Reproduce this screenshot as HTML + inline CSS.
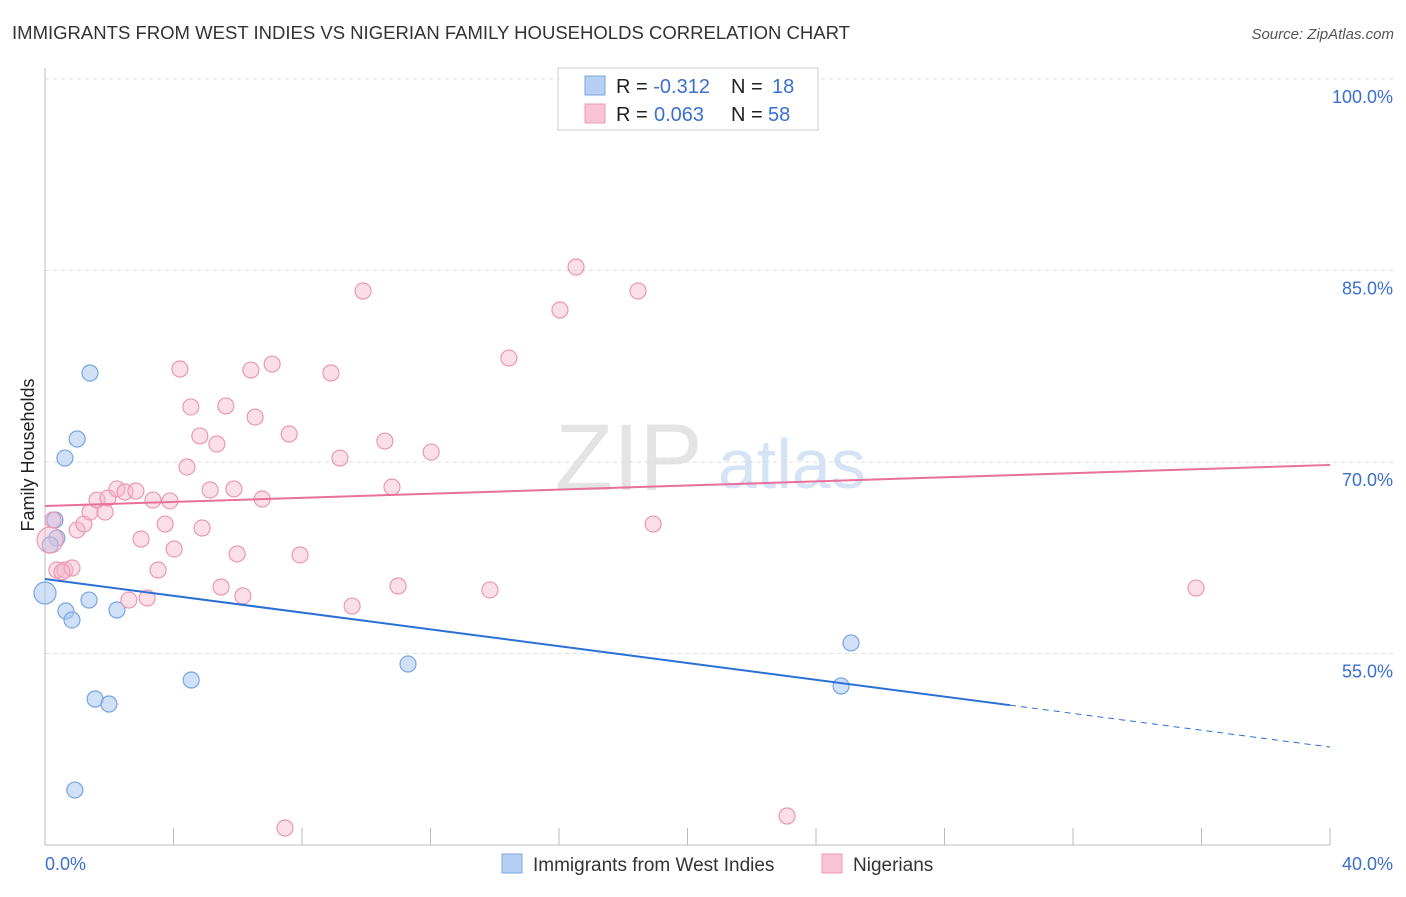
<!DOCTYPE html>
<html><head><meta charset="utf-8"><style>
body{margin:0;background:#fff;font-family:"Liberation Sans",sans-serif;}
svg text{font-family:"Liberation Sans",sans-serif;}
</style></head><body>
<svg id="c" width="1406" height="892" xmlns="http://www.w3.org/2000/svg">
<text x="12" y="39" font-size="18" fill="#333" textLength="838" lengthAdjust="spacingAndGlyphs">IMMIGRANTS FROM WEST INDIES VS NIGERIAN FAMILY HOUSEHOLDS CORRELATION CHART</text>
<text x="1394" y="39" font-size="15" fill="#555" font-style="italic" text-anchor="end">Source: ZipAtlas.com</text>
<text x="34" y="455" font-size="18" fill="#222" text-anchor="middle" transform="rotate(-90 34 455)">Family Households</text>
<text x="555" y="490" font-size="95" fill="#e4e4e4" font-family="Liberation Serif">ZIP</text>
<text x="718" y="488" font-size="70" fill="#d6e3f5">atlas</text>
<g id="grid"></g><g id="axes"></g><g id="pts"></g><g id="lines"></g>
<g>
<rect x="558" y="68" width="260" height="62" fill="#fff" stroke="#ccc"/>
<rect x="585" y="76" width="20" height="19" fill="#b6d0f4" stroke="#7aa6e0"/>
<rect x="585" y="104" width="20" height="19" fill="#f8c4d4" stroke="#ec9ab4"/>
<text x="616" y="93" font-size="20" fill="#222">R = <tspan fill="#3a6fd0">-0.312</tspan><tspan x="731">N = </tspan><tspan x="772" fill="#3a6fd0">18</tspan></text>
<text x="616" y="121" font-size="20" fill="#222">R = <tspan x="654" fill="#3a6fd0">0.063</tspan><tspan x="731">N = </tspan><tspan x="768" fill="#3a6fd0">58</tspan></text>
</g>
<g>
<rect x="502" y="854" width="20" height="19" fill="#b6d0f4" stroke="#7aa6e0"/>
<text x="533" y="871" font-size="19" fill="#333">Immigrants from West Indies</text>
<rect x="822" y="854" width="20" height="19" fill="#f8c4d4" stroke="#ec9ab4"/>
<text x="853" y="871" font-size="19" fill="#333">Nigerians</text>
</g>
<text x="45" y="870" font-size="18" fill="#3a6fd0">0.0%</text>
<text x="1393" y="870" font-size="18" fill="#3a6fd0" text-anchor="end">40.0%</text>
</svg>
<script>
const yTicks=[100,85,70,55];
const yTickLabels=["100.0%","85.0%","70.0%","55.0%"];
const blueX=[0,0.31,0.37,0.62,1.0,1.40,0.65,0.84,1.37,2.24,1.56,1.99,4.55,11.30,25.09,24.78,0.93,0.16];
const blueY=[59.74,65.46,64.05,70.31,71.8,76.97,58.33,57.63,59.19,58.41,51.44,51.05,52.93,54.18,55.83,52.46,44.31,63.5];
const pinkX=[0.16,0.25,0.37,0.62,0.84,1.00,1.21,1.40,1.62,1.87,1.96,2.24,2.49,2.83,2.99,3.36,3.52,3.74,3.89,4.02,4.20,4.42,4.54,4.82,4.89,5.14,5.35,5.48,5.63,5.88,5.98,6.16,6.41,6.54,6.76,7.07,7.47,7.60,7.94,8.90,9.18,9.56,9.90,10.58,10.80,10.99,12.02,13.85,14.44,16.03,16.53,18.46,18.93,23.10,35.83,2.61,3.18,0.53];
const pinkY=[63.89,65.46,61.54,61.54,61.70,64.68,65.14,66.08,67.02,66.08,67.18,67.89,67.65,67.73,63.97,67.02,61.54,65.14,66.95,63.19,77.28,69.61,74.31,72.04,64.83,67.81,71.41,60.21,74.39,67.89,62.80,59.51,77.20,73.52,67.10,77.67,41.34,72.19,62.72,76.97,70.31,58.72,83.39,71.64,68.04,60.29,70.78,59.98,78.14,81.90,85.27,83.39,65.14,42.28,60.13,59.19,59.35,61.39];
const blueLine=[60.84,47.68], blueSolidEnd=30.04;
const pinkLine=[66.55,69.77];
const NS="http://www.w3.org/2000/svg";
const sx=v=>45+v*32.125, sy=v=>462-(v-70)*12.77;
function mk(t,a,p){const e=document.createElementNS(NS,t);for(const k in a)e.setAttribute(k,a[k]);p.appendChild(e);return e;}
const g=document.getElementById('grid'),ax=document.getElementById('axes'),pg=document.getElementById('pts'),lg=document.getElementById('lines');
yTicks.forEach((t,i)=>{
 const l=mk('line',{x1:45,x2:1394,y1:sy(t),y2:sy(t),stroke:'#ddd','stroke-dasharray':'4,4'},g);
 
 
 const tx=mk('text',{x:1393,y:sy(t)+24,'font-size':18,fill:'#3a6fd0','text-anchor':'end'},g);
 tx.textContent=yTickLabels[i];
 
 
});
mk('line',{x1:45,x2:45,y1:68,y2:845,stroke:'#bbb'},ax);
mk('line',{x1:45,x2:1330,y1:845,y2:845,stroke:'#bbb'},ax);
for(let v=0;v<=40;v+=4){const t=mk('line',{x1:sx(v),x2:sx(v),y1:828,y2:845,stroke:'#bbb'},ax);
 
 }
blueX.forEach((x,i)=>{const c=mk('circle',{cx:sx(x),cy:sy(blueY[i]),r:i==0?11:8,fill:'rgba(170,200,240,0.55)',stroke:'#78a4e0','stroke-width':1.2},pg);
 
 });
pinkX.forEach((x,i)=>{const c=mk('circle',{cx:sx(x),cy:sy(pinkY[i]),r:i==0?13:8,fill:'rgba(245,185,205,0.45)',stroke:'#eb98b2','stroke-width':1.2},pg);
 
 });
const by=v=>blueLine[0]+(blueLine[1]-blueLine[0])*v/40;
let l1=mk('line',{x1:sx(0),y1:sy(by(0)),x2:sx(blueSolidEnd),y2:sy(by(blueSolidEnd)),stroke:'#2b6fd6','stroke-width':2},lg);


let l2=mk('line',{x1:sx(blueSolidEnd),y1:sy(by(blueSolidEnd)),x2:sx(40),y2:sy(by(40)),stroke:'#2b6fd6','stroke-width':1,'stroke-dasharray':'6,5'},lg);


let l3=mk('line',{x1:sx(0),y1:sy(pinkLine[0]),x2:sx(40),y2:sy(pinkLine[1]),stroke:'#e8709a','stroke-width':2},lg);


</script>
</body></html>
